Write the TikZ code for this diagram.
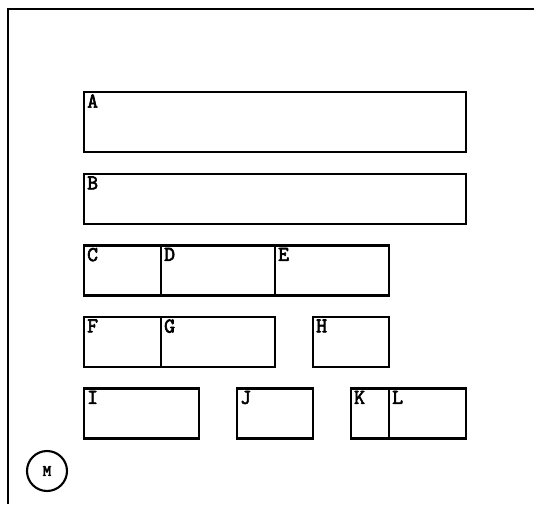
\documentclass[tikz,border=0pt]{standalone}
\usepackage{fontspec}
\usepackage{tikz}
\usetikzlibrary{positioning}

\newfontfamily\tagfont{Latin Modern Mono}[AutoFakeBold=3]

\tikzset{
  box/.style={draw, line width=1.2pt, rectangle, inner sep=0pt, minimum height=1.0cm},
  tag/.style={anchor=north west, inner xsep=2.2pt, inner ysep=1.8pt, font=\tagfont\bfseries\fontsize{12}{13}\selectfont},
  motor/.style={draw, line width=1.2pt, circle, minimum size=0.8cm, inner sep=0pt, font=\tagfont\bfseries\fontsize{9}{10}\selectfont}
}

\begin{document}
\begin{tikzpicture}[x=0.02cm, y=-0.02cm]
    \useasboundingbox (0,0) rectangle (534,504);

    % Outer frame
    \draw[line width=1.3pt] (8,504) -- (8,9) -- (534,9);

    % Wide rows
    \node[box, minimum width=7.64cm, minimum height=1.2cm, label={[tag]north west:A}] (A) at (275,122) {};
    \node[box, minimum width=7.64cm, label={[tag]north west:B}] (B) at (275,199) {};

    % Third row
    \node[box, minimum width=1.54cm, label={[tag]north west:C}] (C) at (122.5,270.5) {};
    \node[box, minimum width=2.28cm, label={[tag]north west:D}] (D) at (218,270.5) {};
    \node[box, minimum width=2.28cm, label={[tag]north west:E}] (E) at (332,270.5) {};

    % Fourth row
    \node[box, minimum width=1.54cm, label={[tag]north west:F}] (F) at (122.5,342) {};
    \node[box, minimum width=2.28cm, label={[tag]north west:G}] (G) at (218,342) {};
    \node[box, minimum width=1.52cm, label={[tag]north west:H}] (H) at (351,342) {};

    % Bottom row
    \node[box, minimum width=2.30cm, label={[tag]north west:I}] (I) at (141.5,413.5) {};
    \node[box, minimum width=1.52cm, label={[tag]north west:J}] (J) at (275,413.5) {};
    \node[box, minimum width=0.76cm, label={[tag]north west:K}] (K) at (370,413.5) {};
    \node[box, minimum width=1.54cm, label={[tag]north west:L}] (L) at (427.5,413.5) {};

    % Motor
    \node[motor] (M) at (47,471) {M};
\end{tikzpicture}
\end{document}
